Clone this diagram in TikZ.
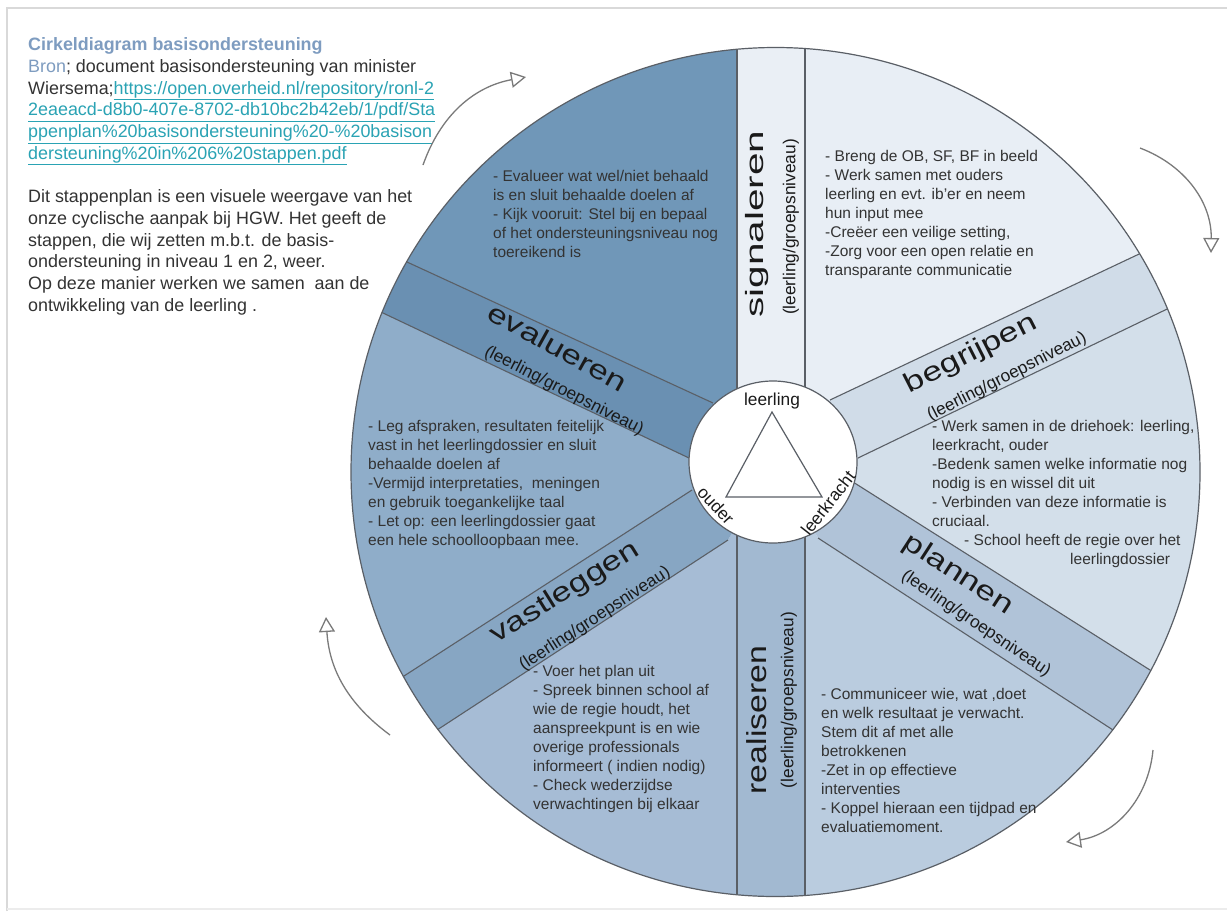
\documentclass[tikz,border=0pt]{standalone}
\usepackage{fontspec}
\setmainfont{Liberation Sans}
\usetikzlibrary{calc,arrows.meta}
\definecolor{txt}{HTML}{333333}
\definecolor{ttl}{HTML}{7E9CC0}
\definecolor{urlc}{HTML}{2AA3B4}
\definecolor{lbl}{HTML}{1A1A1A}
\definecolor{linec}{HTML}{5A5F66}
\definecolor{arrc}{HTML}{7A7A7A}
\definecolor{sigS}{HTML}{EAEFF5}
\definecolor{sigW}{HTML}{E8EEF5}
\definecolor{begS}{HTML}{D0DCE8}
\definecolor{begW}{HTML}{D3DFEA}
\definecolor{plaS}{HTML}{B0C3D8}
\definecolor{plaW}{HTML}{BACCDF}
\definecolor{reaS}{HTML}{A2B9D1}
\definecolor{reaW}{HTML}{A6BCD5}
\definecolor{vasS}{HTML}{87A6C3}
\definecolor{vasW}{HTML}{8FADC9}
\definecolor{evaS}{HTML}{6A90B2}
\definecolor{evaW}{HTML}{7097B8}
\tikzset{
  body/.style={anchor=north west, align=left, inner sep=0pt, text=txt, font=\fontsize{15.5}{19}\selectfont},
  biglbl/.style={inner sep=0pt, text=lbl},
  smalllbl/.style={inner sep=0pt, text=lbl, font=\fontsize{17.3}{20}\selectfont},
  divider/.style={draw=linec, line width=1.1pt},
  cyc/.style={draw=arrc, line width=1.3pt, -{Triangle[open,length=15pt,width=16pt]}},
}
\begin{document}
\begin{tikzpicture}[x=1pt,y=-1pt]
\useasboundingbox (0,0) rectangle (1227,911);
\fill[white] (0,0) rectangle (1227,911);
\draw[gray!30, line width=2pt] (7,911) -- (7,8) -- (1227,8);
\draw[gray!15, line width=1.5pt] (7,909) -- (1227,909);

% geometry
\coordinate (C) at (773,462);
\coordinate (I1) at (737,389);  \coordinate (O1) at (737,50);
\coordinate (I2) at (805,387);  \coordinate (O2) at (805,49);
\coordinate (I3) at (830,400);  \coordinate (O3) at (1137,255);
\coordinate (I4) at (858,458);  \coordinate (O4) at (1163,311);
\coordinate (I5) at (853,482);  \coordinate (O5) at (1150,670);
\coordinate (I6) at (818,538);  \coordinate (O6) at (1113,730);
\coordinate (I7) at (805,537);  \coordinate (O7) at (805,895);
\coordinate (I8) at (737,535);  \coordinate (O8) at (737,894);
\coordinate (I9) at (728,540);  \coordinate (O9) at (437,730);
\coordinate (I10) at (692,490); \coordinate (O10) at (404,676);
\coordinate (I11) at (689,458); \coordinate (O11) at (383,313);
\coordinate (I12) at (713,403); \coordinate (O12) at (407,262);
\foreach \k in {1,...,12} {\coordinate (F\k) at ($(I\k)!2.2!(O\k)$);}

\begin{scope}
\clip (775.5,472) circle[radius=424.5];
\fill[sigS] (I1) -- (F1) -- (F2) -- (I2) -- (C) -- cycle;
\fill[sigW] (I2) -- (F2) -- (F3) -- (I3) -- (C) -- cycle;
\fill[begS] (I3) -- (F3) -- (F4) -- (I4) -- (C) -- cycle;
\fill[begW] (I4) -- (F4) -- (F5) -- (I5) -- (C) -- cycle;
\fill[plaS] (I5) -- (F5) -- (F6) -- (I6) -- (C) -- cycle;
\fill[plaW] (I6) -- (F6) -- (F7) -- (I7) -- (C) -- cycle;
\fill[reaS] (I7) -- (F7) -- (F8) -- (I8) -- (C) -- cycle;
\fill[reaW] (I8) -- (F8) -- (F9) -- (I9) -- (C) -- cycle;
\fill[vasS] (I9) -- (F9) -- (F10) -- (I10) -- (C) -- cycle;
\fill[vasW] (I10) -- (F10) -- (F11) -- (I11) -- (C) -- cycle;
\fill[evaS] (I11) -- (F11) -- (F12) -- (I12) -- (C) -- cycle;
\fill[evaW] (I12) -- (F12) -- (F1) -- (I1) -- (C) -- cycle;
\foreach \k in {1,...,12} {\draw[divider] (I\k) -- (F\k);}
\end{scope}
\draw[linec, line width=1.2pt] (775.5,472) circle[radius=424.5];
\draw[linec, line width=1.2pt, fill=white] (C) ellipse[x radius=84, y radius=81];

% centre triangle
\coordinate (T1) at (772,412);
\coordinate (T2) at (822,497);
\coordinate (T3) at (726,497);
\draw[linec, line width=1.2pt] (T1) -- (T2) -- (T3) -- cycle;
\node[smalllbl] (leer) at (772,401) {leerling};
\node[smalllbl, rotate=-47] (oud) at (716,505) {ouder};
\node[smalllbl, rotate=52] (lkr) at (828,503) {leerkracht};

% strip labels
\node[biglbl, font=\fontsize{25}{25}\selectfont, rotate=90, xscale=1.62] (lsig) at (757,224) {signaleren};
\node[smalllbl, rotate=90] (ssig) at (791,227) {(leerling/groepsniveau)};
\node[biglbl, font=\fontsize{27}{27}\selectfont, rotate=27, xscale=1.3] (lbeg) at (971,354) {begrijpen};
\node[smalllbl, rotate=27] (sbeg) at (1007,377) {(leerling/groepsniveau)};
\node[biglbl, font=\fontsize{27}{27}\selectfont, rotate=-33, xscale=1.3] (lpla) at (958,575) {plannen};
\node[smalllbl, rotate=-34] (spla) at (976,624) {(leerling/groepsniveau)};
\node[biglbl, font=\fontsize{27.5}{27.5}\selectfont, rotate=90, xscale=1.23] (lrea) at (757,720) {realiseren};
\node[smalllbl, rotate=90] (srea) at (789,700) {(leerling/groepsniveau)};
\node[biglbl, font=\fontsize{27}{27}\selectfont, rotate=32, xscale=1.3] (lvas) at (565,593) {vastleggen};
\node[smalllbl, rotate=33] (svas) at (595,619) {(leerling/groepsniveau)};
\node[biglbl, font=\fontsize{27}{27}\selectfont, rotate=-29, xscale=1.3] (leva) at (558,347) {evalueren};
\node[smalllbl, rotate=-27] (seva) at (564,391) {(leerling/groepsniveau)};

% wedge texts
\node[body] (tsig) at (825,147.7) {\strut- Breng de OB, SF, BF in beeld\\
- Werk samen met ouders\\
leerling en evt. ib'er en neem\\
hun input mee\\
-Creëer een veilige setting,\\
-Zorg voor een open relatie en\\
transparante communicatie};
\node[body] (tbeg) at (932,417.7) {\strut- Werk samen in de driehoek: leerling,\\
leerkracht, ouder\\
-Bedenk samen welke informatie nog\\
nodig is en wissel dit uit\\
- Verbinden van deze informatie is\\
cruciaal.\\
\hspace*{32pt}- School heeft de regie over het\\
\hspace*{138pt}leerlingdossier};
\node[body] (tpla) at (821,685.7) {\strut- Communiceer wie, wat ,doet\\
en welk resultaat je verwacht.\\
Stem dit af met alle\\
betrokkenen\\
-Zet in op effectieve\\
interventies\\
- Koppel hieraan een tijdpad en\\
evaluatiemoment.};
\node[body] (trea) at (533,662.7) {\strut- Voer het plan uit\\
- Spreek binnen school af\\
wie de regie houdt, het\\
aanspreekpunt is en wie\\
overige professionals\\
informeert ( indien nodig)\\
- Check wederzijdse\\
verwachtingen bij elkaar};
\node[body] (tvas) at (368,417.7) {\strut- Leg afspraken, resultaten feitelijk\\
vast in het leerlingdossier en sluit\\
behaalde doelen af\\
-Vermijd interpretaties,\ \ meningen\\
en gebruik toegankelijke taal\\
- Let op: een leerlingdossier gaat\\
een hele schoolloopbaan mee.};
\node[body] (teva) at (493,167.7) {\strut- Evalueer wat wel/niet behaald\\
is en sluit behaalde doelen af\\
- Kijk vooruit: Stel bij en bepaal\\
of het ondersteuningsniveau nog\\
toereikend is};

% intro text
\node[anchor=north west, align=left, inner sep=0pt, text=txt, font=\fontsize{17.9}{21.7}\selectfont] (intro) at (28,35.5) {\strut\textcolor{ttl}{\textbf{Cirkeldiagram basisondersteuning}}\\
\textcolor{ttl}{Bron}; document basisondersteuning van minister\\
Wiersema;\textcolor{urlc}{\underline{https://open.overheid.nl/repository/ronl-2}}\\
\textcolor{urlc}{\underline{2eaeacd-d8b0-407e-8702-db10bc2b42eb/1/pdf/Sta}}\\
\textcolor{urlc}{\underline{ppenplan\%20basisondersteuning\%20-\%20basison}}\\
\textcolor{urlc}{\underline{dersteuning\%20in\%206\%20stappen.pdf}}\\
\strut\\
Dit stappenplan is een visuele weergave van het\\
onze cyclische aanpak bij HGW. Het geeft de\\
stappen, die wij zetten m.b.t. de basis-\\
ondersteuning in niveau 1 en 2, weer.\\
Op deze manier werken we samen\ \ aan de\\
ontwikkeling van de leerling .};

% cycle arrows
\coordinate (a1s) at (423,165); \coordinate (a1e) at (526,77);
\coordinate (a2s) at (1140,148); \coordinate (a2e) at (1211,253);
\coordinate (a3s) at (1153,750); \coordinate (a3e) at (1066,842);
\coordinate (a4s) at (390,735); \coordinate (a4e) at (326,617);
\draw[cyc] (a1s) to[bend left=30] (a1e);
\draw[cyc] (a2s) to[bend left=35] (a2e);
\draw[cyc] (a3s) to[bend left=38] (a3e);
\draw[cyc] (a4s) to[bend left=25] (a4e);
\end{tikzpicture}
\end{document}
